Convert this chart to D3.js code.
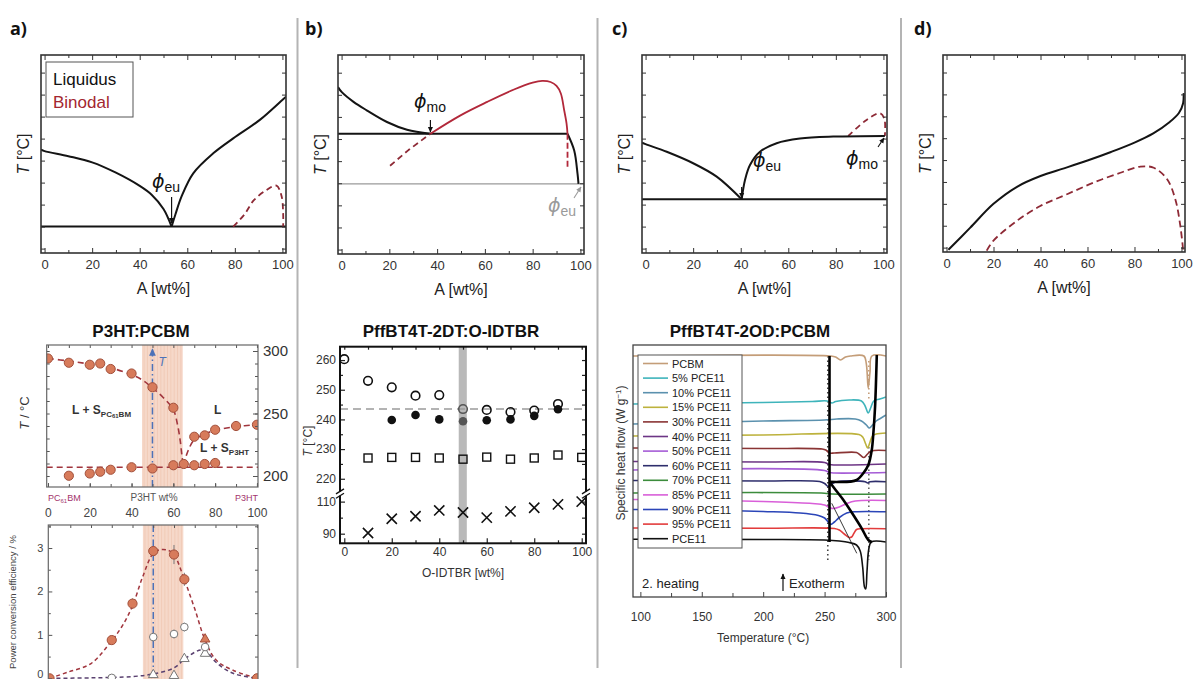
<!DOCTYPE html>
<html>
<head>
<meta charset="utf-8">
<script src="https://cdn.jsdelivr.net/npm/d3@7"></script>
<style>
  body { margin: 0; background: #fff; }
  svg { display: block; }
  text { font-family: "Liberation Sans", Arial, sans-serif; }
</style>
</head>
<body>
<svg id="fig" width="1194" height="679"></svg>
<script>
// ===================== data =====================
// composition axis (wt%) and arbitrary temperature axis of the schematic diagrams
const compMajorTicks = [0, 20, 40, 60, 80, 100];
const compMinorTicks = [10, 30, 50, 70, 90];
const compDomain = [-1.5, 101.5];
const tempArbDomain = [-0.2, 8.8];
const tempArbTicks = [0, 1, 2, 3, 4, 5, 6, 7, 8];

// a) simple eutectic with a hidden binodal
const aLiquidusLeft  = [[-1.5, 4.5], [0, 4.43], [10, 4.2], [20, 3.92], [30, 3.45], [40, 2.85], [45, 2.45], [50, 1.8], [53.4, 1.0]];
const aLiquidusRight = [[53.4, 1.0], [55, 1.55], [57.6, 2.37], [62.5, 3.42], [70.9, 4.33], [79.3, 5.01], [90.5, 5.85], [100.3, 6.79], [101.5, 6.9]];
const aEutectic      = [[-1.5, 1.0], [101.5, 1.0]];
const aBinodal       = [[79.3, 1.0], [84, 1.55], [88, 2.2], [93.3, 2.66], [97.5, 2.86], [99.6, 2.4], [100.3, 1.6], [100.3, 1.0]];

// b) monotectic + eutectic
const bLiquidusLeft  = [[-1.5, 7.35], [0, 7.13], [5, 6.68], [10.5, 6.3], [19, 5.77], [27.4, 5.42], [37.2, 5.24]];
const bMonotectic    = [[-1.5, 5.24], [94.6, 5.24]];
const bBinodalStable = [[37.2, 5.24], [49.8, 6.07], [61, 6.68], [72.2, 7.24], [80, 7.55], [84, 7.63], [87.5, 7.58], [90, 7.4], [91.8, 7.06], [93.2, 6.3], [94.2, 5.7], [94.6, 5.24]];
const bBinodalHidden = [[20.3, 3.79], [28, 4.5], [37.2, 5.24]];
const bBinodalDrop   = [[94.6, 5.24], [94.6, 3.75]];
const bLiquidusRight = [[94.6, 5.24], [97.4, 4.48], [98.8, 3.42], [99.2, 2.97]];
const bEutectic      = [[-1.5, 2.97], [101.5, 2.97]];

// c) eutectic with a monotectic close to pure A
const cLiquidusLeft  = [[-1.5, 4.82], [0, 4.75], [8.9, 4.4], [20, 3.88], [29.9, 3.27], [40.4, 2.24]];
const cEutectic      = [[-1.5, 2.24], [101.5, 2.24]];
const cLiquidusRight = [[40.4, 2.24], [41.8, 3.12], [43.9, 3.8], [48.1, 4.4], [55.1, 4.79], [64.9, 5.0], [78.9, 5.09], [100.6, 5.12]];
const cBinodal       = [[85.2, 5.12], [92.9, 5.85], [98.5, 6.15], [100.4, 5.9], [100.6, 5.12]];

// d) liquidus above a fully metastable binodal
const dLiquidus = [[0.8, -0.1], [10, 0.9], [20, 2.0], [30, 2.78], [40, 3.27], [50, 3.62], [60, 3.98], [70, 4.37], [80, 4.8], [88, 5.22], [95, 5.74], [98.9, 6.15], [100.7, 6.6], [100.9, 7.06]];
const dBinodal  = [[17.1, -0.14], [19.9, 0.31], [29.9, 1.22], [39.9, 1.9], [51.3, 2.44], [62.6, 2.97], [74, 3.42], [82.5, 3.7], [88.2, 3.65], [93.9, 3.12], [97.4, 2.2], [99.5, 1.0], [100.7, -0.1]];

// P3HT:PCBM phase diagram (T in °C vs. P3HT wt%)
const p3htTempTicks = [200, 250, 300];
const p3htLiquidusPCBM = [[0, 294], [10, 290.6], [20, 289], [25, 290], [30, 285.6], [40, 282], [50, 271], [60, 254.6]];
const p3htLiquidusP3HT = [[70, 231.4], [75, 232.5], [80, 237], [90, 240], [100, 241]];
const p3htSolidus      = [[10, 200.2], [20, 202], [25, 203.4], [30, 205], [40, 207], [50, 206], [60, 208.6], [65, 209.6], [70, 208.6], [75, 209.6], [80, 210.4]];
const p3htEutecticT    = 207;
const p3htFitPCBM      = [[0, 294], [10, 292], [20, 289.5], [30, 286.5], [40, 281], [45, 277], [50, 270.5], [55, 263], [60, 253], [62, 241], [63.3, 228], [64.2, 215], [64.8, 208.5]];
const p3htFitP3HT      = [[64.8, 208.5], [67, 220], [70, 229], [75, 233.5], [80, 236.5], [90, 239.5], [100, 241]];
const optimumBand      = [45, 64.5];
const optimumComp      = 50;

// P3HT:PCBM solar-cell efficiency (%)
const pceTicks = [0, 1, 2, 3];
const pceFilled     = [[0, 0], [30, 0.88], [40, 1.72], [50, 2.93], [60, 2.85], [65, 2.28], [100, 0]];
const pceFilledErr  = [[40, 0.12], [60, 0.22], [65, 0.15]];
const pceTriFilled  = [[75, 0.9]];
const pceOpen       = [[30, 0.01], [50, 0.95], [60, 1.02], [65, 1.18], [75, 0.72]];
const pceOpenErr    = [[50, 0.1], [60, 0.1], [65, 0.1], [75, 0.08]];
const pceTriOpen    = [[50, 0.08], [60, 0.06], [65, 0.45], [75, 0.57]];
const pceFitFilled  = [[0, 0], [8.7, 0.14], [20, 0.34], [30, 0.87], [35, 1.2], [40, 1.67], [45, 2.35], [50, 2.88], [53.3, 2.96], [57, 2.95], [60, 2.85], [65, 2.27], [70, 1.6], [75, 0.88], [80.3, 0.42], [88.2, 0.19], [100, 0]];
const pceFitOpen    = [[0, 0], [20, 0.01], [40, 0.04], [50, 0.1], [60, 0.24], [65, 0.44], [70, 0.6], [73, 0.65], [76, 0.6], [80, 0.38], [85, 0.2], [90, 0.09], [100, 0]];

// PffBT4T-2DT:O-IDTBR transition temperatures (°C)
const idtTempTicksUpper = [220, 230, 240, 250, 260];
const idtTempTicksLower = [90, 110];
const idtMelt     = [[0, 260.3], [10, 253], [20, 250.8], [30, 248], [40, 248.2], [50, 243.5], [60, 243.2], [70, 242.5], [80, 243], [90, 245.2]];
const idtMeltOnset = [[20, 239.8], [30, 241.5], [40, 240], [50, 239.4], [60, 239.7], [70, 240], [80, 241.2], [90, 243.4]];
const idtCryst    = [[10, 227], [20, 227.2], [30, 227.2], [40, 227], [50, 226.6], [60, 227.3], [70, 226.6], [80, 227], [90, 228], [100, 227.2]];
const idtGlass    = [[10, 90.4], [20, 99.3], [30, 100.9], [40, 104.5], [50, 103.2], [60, 100], [70, 103.9], [80, 106.2], [90, 108.3], [100, 110]];
const idtEutecticT = 243.5;
const idtBand      = [48.2, 51.6];

// PffBT4T-2OD:PCBM DSC second heating (temperature °C, heat flow in arbitrary offset units)
const dscTempTicks = [100, 150, 200, 250, 300];
const dscLabels = ["PCBM", "5% PCE11", "10% PCE11", "15% PCE11", "30% PCE11", "40% PCE11", "50% PCE11", "60% PCE11", "70% PCE11", "85% PCE11", "90% PCE11", "95% PCE11", "PCE11"];
const dscPCBM  = [[94, 241], [255, 241], [259, 240], [263, 237], [267, 240], [271, 241], [282, 241], [284, 233], [285.5, 209], [287, 225], [288.5, 241], [300, 241]];
const dsc5     = [[94, 193], [150, 193.8], [200, 194.5], [240, 195.5], [252, 196], [256, 194], [259, 195.5], [270, 197], [280, 196], [283, 191], [285.5, 184], [287.5, 189], [290, 196], [295, 198], [300, 200]];
const dsc10    = [[94, 173], [150, 174.5], [200, 176], [250, 177], [260, 178], [275, 178], [280, 176], [284, 172], [286.5, 169], [289, 172], [292, 176], [296, 179], [300, 182]];
const dsc15    = [[94, 161], [200, 162], [278, 162.5], [281, 160], [283.5, 153], [285, 149], [287, 155], [289, 161], [292, 163], [300, 164]];
const dsc30    = [[94, 149], [200, 148.5], [248, 148], [251, 147], [254, 144], [258, 144], [276, 144.5], [279, 142], [282, 139.5], [285, 143], [288, 146], [300, 146.5]];
const dsc40    = [[94, 135.5], [200, 135], [250, 134.5], [254, 132.5], [258, 132], [300, 133]];
const dsc50    = [[94, 127], [250, 126.5], [254, 124.5], [258, 124], [300, 124.5]];
const dsc60    = [[94, 116.5], [200, 116], [246, 115.5], [250, 113.5], [253, 110.5], [256, 113], [260, 115.3], [283, 115.3], [285, 114], [287, 115.3], [300, 115.3]];
const dsc70    = [[94, 104], [250, 103.8], [256, 103], [300, 103]];
const dsc85    = [[94, 97.5], [150, 97], [200, 95.5], [240, 93.5], [250, 92], [254, 89.5], [257, 88.5], [262, 90], [268, 93.5], [275, 96], [300, 96.5]];
const dsc90    = [[94, 87.5], [150, 87], [200, 85.5], [230, 84], [245, 81.5], [250, 79], [253, 75], [255, 72.5], [258, 75], [262, 79.5], [268, 84], [275, 85.3], [300, 85.3]];
const dsc95    = [[94, 69], [200, 68.7], [258, 68.5], [262, 67], [266, 63], [270, 59.5], [272, 60], [274, 64], [276, 67.5], [280, 68.3], [300, 68.3]];
const dscPCE11 = [[94, 57.7], [200, 57.5], [250, 57], [262, 56], [270, 54.5], [276, 52], [279, 46], [281, 30], [282.5, 10], [283.5, 8], [284.5, 25], [286, 48], [288, 55], [300, 55]];
// phase boundaries drawn through the DSC traces
const dscSolidusT     = 254;
const dscSolidusSpan  = [55, 241];
const dscLiquidusUp   = [[254, 115.3], [270.7, 115.3], [276.2, 117], [281.5, 123.7], [285.6, 132], [288.4, 147], [289.7, 163.7], [291.1, 190.3], [292.5, 242]];
const dscLiquidusDown = [[254, 115.3], [259, 107], [265.3, 97], [273.4, 82], [280.2, 68.7], [285.6, 57], [288.4, 55]];
const dscGuide        = [[255.8, 93.7], [276.2, 43.7]];
const dscOnsetT       = [252.6, 286];

// ===================== drawing =====================
const svg = d3.select("#fig");
const defs = svg.append("defs");

function arrowMarker(id, color) {
  defs.append("marker").attr("id", id)
    .attr("viewBox", "0 0 10 10").attr("refX", 9).attr("refY", 5)
    .attr("markerWidth", 5).attr("markerHeight", 5)
    .attr("orient", "auto")
    .append("path").attr("d", "M0,0.5 L10,5 L0,9.5 Z").attr("fill", color);
}
arrowMarker("arrK", "#111");
arrowMarker("arrG", "#9a9a9a");
arrowMarker("arrB", "#4d72b8");

let clipCount = 0;
function clipFor(g, x0, y0, w, h) {
  const id = "clip" + (clipCount++);
  defs.append("clipPath").attr("id", id).append("rect")
    .attr("x", x0).attr("y", y0).attr("width", w).attr("height", h);
  return g.append("g").attr("clip-path", `url(#${id})`);
}

// axis with inward-pointing ticks
function inwardAxis(g, axisFn, scale, values, size, transform, opts = {}) {
  const ax = axisFn(scale).tickValues(values).tickSize(-size).tickSizeOuter(0)
    .tickPadding(opts.pad ?? 6);
  if (!opts.labels) ax.tickFormat("");
  else ax.tickFormat(opts.format || d3.format("d"));
  const a = g.append("g").attr("transform", transform).call(ax);
  a.select(".domain").remove();
  a.selectAll("line").attr("stroke", opts.tickColor || "#333").attr("stroke-width", opts.tickWidth || 1);
  a.selectAll("text").attr("fill", opts.textColor || "#333")
    .style("font-size", (opts.fontSize || 13) + "px")
    .style("font-family", "'Liberation Sans', Arial, sans-serif");
  return a;
}

function phi(g, x, y, sub, color) {
  const t = g.append("text").attr("x", x).attr("y", y).attr("fill", color);
  t.append("tspan").text("ϕ").style("font-family", "'DejaVu Sans', sans-serif")
    .style("font-style", "italic").style("font-size", "19px");
  t.append("tspan").text(sub).attr("dy", 4).style("font-size", "14px");
}

function arrow(g, x1, y1, x2, y2, marker, color, w) {
  g.append("line").attr("x1", x1).attr("y1", y1).attr("x2", x2).attr("y2", y2)
    .attr("stroke", color).attr("stroke-width", w || 1.2).attr("marker-end", `url(#${marker})`);
}

// ---------- panel letters and separators ----------
[["a)", 10], ["b)", 305], ["c)", 612], ["d)", 914]].forEach(([s, x]) => {
  svg.append("text").attr("x", x).attr("y", 35).text(s)
    .style("font-family", "'Open Sans', 'Liberation Sans', sans-serif")
    .style("font-weight", "bold").style("font-size", "18px").attr("fill", "#111");
});
[297.5, 597.5, 901].forEach(x => {
  svg.append("line").attr("x1", x).attr("x2", x).attr("y1", 18).attr("y2", 668)
    .attr("stroke", "#b4b4b4").attr("stroke-width", 2);
});

// ---------- schematic phase diagrams (top row) ----------
const BLACK = "#141414", BINODAL = "#8e2a36";
function phasePanel(box) {
  const g = svg.append("g");
  const x = d3.scaleLinear().domain(compDomain).range([box.left, box.right]);
  const y = d3.scaleLinear().domain(tempArbDomain).range([box.bottom, box.top]);
  const line = d3.line().x(d => x(d[0])).y(d => y(d[1])).curve(d3.curveCatmullRom.alpha(0.5));
  const plot = clipFor(g, box.left, box.top, box.right - box.left, box.bottom - box.top);

  inwardAxis(g, d3.axisBottom, x, compMajorTicks, 5, `translate(0,${box.bottom})`, { labels: true, pad: 7, fontSize: 13 });
  inwardAxis(g, d3.axisBottom, x, compMinorTicks, 3, `translate(0,${box.bottom})`);
  inwardAxis(g, d3.axisTop, x, compMajorTicks, 5, `translate(0,${box.top})`);
  inwardAxis(g, d3.axisTop, x, compMinorTicks, 3, `translate(0,${box.top})`);
  inwardAxis(g, d3.axisLeft, y, tempArbTicks, 4, `translate(${box.left},0)`);
  inwardAxis(g, d3.axisRight, y, tempArbTicks, 4, `translate(${box.right},0)`);
  g.append("rect").attr("x", box.left).attr("y", box.top)
    .attr("width", box.right - box.left).attr("height", box.bottom - box.top)
    .attr("fill", "none").attr("stroke", "#333").attr("stroke-width", 1.6);

  g.append("text").attr("x", x(50)).attr("y", box.bottom + 41).attr("text-anchor", "middle")
    .style("font-size", "16px").attr("fill", "#222").text("A [wt%]");
  const yl = g.append("text").attr("transform", `translate(${box.left - 12},${(box.top + box.bottom) / 2}) rotate(-90)`)
    .attr("text-anchor", "middle").style("font-size", "16px").attr("fill", "#222");
  yl.append("tspan").text("T").style("font-style", "italic");
  yl.append("tspan").text(" [°C]");

  const draw = (data, color, width, dash, straight) => plot.append("path").datum(data)
    .attr("d", straight ? d3.line().x(d => x(d[0])).y(d => y(d[1]))(data) : line(data))
    .attr("fill", "none").attr("stroke", color).attr("stroke-width", width)
    .attr("stroke-dasharray", dash || null).attr("stroke-linejoin", "round");
  return { g, x, y, draw };
}

// a)
{
  const p = phasePanel({ left: 41, right: 286, top: 55, bottom: 253 });
  p.draw(aEutectic, BLACK, 2, null, true);
  p.draw(aBinodal, BINODAL, 1.8, "6,4");
  p.draw(aLiquidusLeft, BLACK, 2);
  p.draw(aLiquidusRight, BLACK, 2);
  p.g.append("rect").attr("x", 46).attr("y", 62).attr("width", 87).attr("height", 55)
    .attr("fill", "#fff").attr("stroke", "#555").attr("stroke-width", 1);
  p.g.append("text").attr("x", 53).attr("y", 85).text("Liquidus").style("font-size", "17px").attr("fill", "#111");
  p.g.append("text").attr("x", 53).attr("y", 108).text("Binodal").style("font-size", "17px").attr("fill", "#a3262f");
  phi(p.g, 152, 188, "eu", "#111");
  arrow(p.g, p.x(53.4), 197, p.x(53.4), 223, "arrK", "#111", 1.2);
}
// b)
{
  const p = phasePanel({ left: 338, right: 584, top: 55, bottom: 254 });
  p.draw(bEutectic, "#9a9a9a", 1.3, null, true);
  p.draw(bMonotectic, BLACK, 2, null, true);
  p.draw(bLiquidusLeft, BLACK, 2);
  p.draw(bLiquidusRight, BLACK, 2);
  p.draw(bBinodalHidden, BINODAL, 1.8, "6,4", true);
  p.draw(bBinodalDrop, "#b2283a", 1.8, "6,3", true);
  p.draw(bBinodalStable, "#b2283a", 1.8);
  phi(p.g, 414, 108, "mo", "#111");
  arrow(p.g, p.x(37.2), 120, p.x(37.2), 132, "arrK", "#111", 1.2);
  phi(p.g, 548, 212, "eu", "#9a9a9a");
  arrow(p.g, 574, 198, 581, 187, "arrG", "#9a9a9a", 1.1);
}
// c)
{
  const p = phasePanel({ left: 642, right: 887, top: 55, bottom: 253 });
  p.draw(cEutectic, BLACK, 2, null, true);
  p.draw(cBinodal, BINODAL, 1.8, "6,4");
  p.draw(cLiquidusLeft, BLACK, 2);
  p.draw(cLiquidusRight, BLACK, 2);
  phi(p.g, 753, 167, "eu", "#111");
  arrow(p.g, p.x(40.4), 187, p.x(40.4), 198, "arrK", "#111", 1.2);
  phi(p.g, 846, 165, "mo", "#111");
  arrow(p.g, 878, 147, 884, 138, "arrK", "#111", 1.1);
}
// d)
{
  const p = phasePanel({ left: 943, right: 1185, top: 55, bottom: 252 });
  p.draw(dBinodal, BINODAL, 1.8, "7,4");
  p.draw(dLiquidus, BLACK, 2);
}

// ---------- titles of the experimental panels ----------
[["P3HT:PCBM", 141], ["PffBT4T-2DT:O-IDTBR", 451], ["PffBT4T-2OD:PCBM", 750]].forEach(([s, x]) => {
  svg.append("text").attr("x", x).attr("y", 337).attr("text-anchor", "middle").text(s)
    .style("font-weight", "bold").style("font-size", "17px").attr("fill", "#111");
});

// ---------- P3HT:PCBM phase diagram ----------
const MARK_FILL = "#d77b5b", MARK_EDGE = "#a24f3a", FIT = "#a1353d", BLUE = "#4d72b8";
{
  const g = svg.append("g");
  const box = { left: 46.7, right: 258, top: 345, bottom: 487 };
  const x = d3.scaleLinear().domain([-0.6, 100.5]).range([box.left, box.right]);
  const y = d3.scaleLinear().domain([191.2, 304.8]).range([box.bottom, box.top]);
  const line = d3.line().x(d => x(d[0])).y(d => y(d[1])).curve(d3.curveCatmullRom.alpha(0.5));
  const plot = clipFor(g, box.left, box.top, box.right - box.left, box.bottom - box.top);

  plot.append("rect").attr("x", x(optimumBand[0])).attr("y", box.top)
    .attr("width", x(optimumBand[1]) - x(optimumBand[0])).attr("height", box.bottom - box.top)
    .attr("fill", "#f6d8c9");
  plot.selectAll("line.band").data(d3.range(optimumBand[0] + 1, optimumBand[1], 1.6)).join("line")
    .attr("x1", d => x(d)).attr("x2", d => x(d)).attr("y1", box.top).attr("y2", box.bottom)
    .attr("stroke", "#efc2ad").attr("stroke-width", 0.6);

  inwardAxis(g, d3.axisRight, y, p3htTempTicks, 5, `translate(${box.right},0)`, { labels: true, pad: 5, fontSize: 15, tickColor: "#555" });
  inwardAxis(g, d3.axisRight, y, d3.range(200, 301, 10), 3, `translate(${box.right},0)`, { tickColor: "#555" });
  inwardAxis(g, d3.axisLeft, y, d3.range(200, 301, 10), 3, `translate(${box.left},0)`, { tickColor: "#555" });
  inwardAxis(g, d3.axisTop, x, d3.range(0, 101, 10), 3, `translate(0,${box.top})`, { tickColor: "#555" });
  inwardAxis(g, d3.axisBottom, x, d3.range(0, 101, 10), 3, `translate(0,${box.bottom})`, { tickColor: "#555" });
  inwardAxis(g, d3.axisBottom, x, compMajorTicks, 4, `translate(0,${box.bottom})`, { labels: true, pad: 21, fontSize: 12, tickColor: "#555", textColor: "#444" });
  g.append("rect").attr("x", box.left).attr("y", box.top)
    .attr("width", box.right - box.left).attr("height", box.bottom - box.top)
    .attr("fill", "none").attr("stroke", "#666").attr("stroke-width", 1.2);

  // optimum composition with heating arrow
  plot.append("line").attr("x1", x(optimumComp)).attr("x2", x(optimumComp))
    .attr("y1", box.bottom).attr("y2", box.top + 4)
    .attr("stroke", BLUE).attr("stroke-width", 1.5).attr("stroke-dasharray", "7,3,1.5,3")
    .attr("marker-end", "url(#arrB)");
  g.append("text").attr("x", x(optimumComp) + 6).attr("y", 366).text("T")
    .style("font-style", "italic").style("font-size", "12px").attr("fill", BLUE);

  plot.append("line").attr("x1", box.left).attr("x2", box.right)
    .attr("y1", y(p3htEutecticT)).attr("y2", y(p3htEutecticT))
    .attr("stroke", FIT).attr("stroke-width", 1.6).attr("stroke-dasharray", "6,4");
  [p3htFitPCBM, p3htFitP3HT].forEach(d => plot.append("path").attr("d", line(d))
    .attr("fill", "none").attr("stroke", FIT).attr("stroke-width", 1.6).attr("stroke-dasharray", "6,4"));

  plot.selectAll("circle").data([...p3htSolidus, ...p3htLiquidusPCBM, ...p3htLiquidusP3HT]).join("circle")
    .attr("cx", d => x(d[0])).attr("cy", d => y(d[1])).attr("r", 4.6)
    .attr("fill", MARK_FILL).attr("stroke", MARK_EDGE).attr("stroke-width", 1);

  const lab = (xp, yp, main, sub) => {
    const t = g.append("text").attr("x", xp).attr("y", yp).attr("fill", "#333")
      .style("font-size", "12px").style("font-weight", "bold");
    t.append("tspan").text(main);
    if (sub) sub.forEach(([s, dy, fs]) => t.append("tspan").text(s).attr("dy", dy).style("font-size", fs + "px"));
  };
  lab(72, 414, "L + S", [["PC", 3, 8], ["61", 1, 6], ["BM", -1, 8]]);
  lab(214, 414, "L");
  lab(200, 452, "L + S", [["P3HT", 3, 8]]);

  const yl = g.append("text").attr("transform", `translate(29,413) rotate(-90)`)
    .attr("text-anchor", "middle").style("font-size", "13px").attr("fill", "#333");
  yl.append("tspan").text("T").style("font-style", "italic");
  yl.append("tspan").text(" / °C");

  const rowY = 501;
  const t1 = g.append("text").attr("x", 48).attr("y", rowY).attr("fill", "#a3346c").style("font-size", "9px");
  t1.append("tspan").text("PC");
  t1.append("tspan").text("61").attr("dy", 2).style("font-size", "6px");
  t1.append("tspan").text("BM").attr("dy", -2);
  g.append("text").attr("x", 154).attr("y", rowY).attr("text-anchor", "middle")
    .attr("fill", "#555").style("font-size", "10px").text("P3HT wt%");
  g.append("text").attr("x", 258).attr("y", rowY).attr("text-anchor", "end")
    .attr("fill", "#a3346c").style("font-size", "9px").text("P3HT");
}

// ---------- P3HT:PCBM power conversion efficiency ----------
{
  const g = svg.append("g");
  const box = { left: 48.3, right: 258, top: 525, bottom: 690 };
  const x = d3.scaleLinear().domain([-0.6, 100.5]).range([box.left, box.right]);
  const y = d3.scaleLinear().domain([0, 3.53]).range([678.3, box.top]);
  const line = d3.line().x(d => x(d[0])).y(d => y(d[1])).curve(d3.curveCatmullRom.alpha(0.5));
  const plot = clipFor(g, box.left, box.top, box.right - box.left, box.bottom - box.top);

  plot.append("rect").attr("x", x(optimumBand[0])).attr("y", box.top)
    .attr("width", x(optimumBand[1]) - x(optimumBand[0])).attr("height", box.bottom - box.top)
    .attr("fill", "#f6d8c9");
  plot.selectAll("line.band").data(d3.range(optimumBand[0] + 1, optimumBand[1], 1.6)).join("line")
    .attr("x1", d => x(d)).attr("x2", d => x(d)).attr("y1", box.top).attr("y2", box.bottom)
    .attr("stroke", "#efc2ad").attr("stroke-width", 0.6);
  plot.append("line").attr("x1", x(optimumComp)).attr("x2", x(optimumComp))
    .attr("y1", box.top).attr("y2", box.bottom)
    .attr("stroke", BLUE).attr("stroke-width", 1.5).attr("stroke-dasharray", "7,3,1.5,3");

  const yAx = inwardAxis(g, d3.axisLeft, y, pceTicks, 4, `translate(${box.left},0)`, { labels: true, pad: 5, fontSize: 11, tickColor: "#555", textColor: "#444" });
  // keep the zero label inside the page edge
  yAx.selectAll(".tick").filter(d => d === 0).select("text").attr("y", -4);
  inwardAxis(g, d3.axisLeft, y, [0.5, 1.5, 2.5, 3.5], 2.5, `translate(${box.left},0)`, { tickColor: "#555" });
  inwardAxis(g, d3.axisRight, y, [0.5, 1, 1.5, 2, 2.5, 3, 3.5], 3, `translate(${box.right},0)`, { tickColor: "#555" });
  inwardAxis(g, d3.axisTop, x, d3.range(0, 101, 10), 3, `translate(0,${box.top})`, { tickColor: "#555" });
  g.append("rect").attr("x", box.left).attr("y", box.top)
    .attr("width", box.right - box.left).attr("height", box.bottom - box.top)
    .attr("fill", "none").attr("stroke", "#666").attr("stroke-width", 1.2);

  plot.append("path").attr("d", line(pceFitFilled)).attr("fill", "none")
    .attr("stroke", FIT).attr("stroke-width", 1.5).attr("stroke-dasharray", "4,3");
  plot.append("path").attr("d", line(pceFitOpen)).attr("fill", "none")
    .attr("stroke", "#5a4170").attr("stroke-width", 1.5).attr("stroke-dasharray", "4,3");

  const err = (data, base) => plot.selectAll(null).data(data).join("line")
    .attr("x1", d => x(d[0])).attr("x2", d => x(d[0]))
    .attr("y1", d => y(base.find(b => b[0] === d[0])[1] - d[1]))
    .attr("y2", d => y(base.find(b => b[0] === d[0])[1] + d[1]))
    .attr("stroke", "#777").attr("stroke-width", 1);
  err(pceFilledErr, pceFilled);
  err(pceOpenErr, pceOpen);

  const tri = d3.symbol().type(d3.symbolTriangle).size(40);
  plot.selectAll(null).data(pceTriOpen).join("path").attr("d", tri)
    .attr("transform", d => `translate(${x(d[0])},${y(d[1])})`)
    .attr("fill", "#fff").attr("stroke", "#777").attr("stroke-width", 1);
  plot.selectAll(null).data(pceOpen).join("circle")
    .attr("cx", d => x(d[0])).attr("cy", d => y(d[1])).attr("r", 3.8)
    .attr("fill", "#fff").attr("stroke", "#777").attr("stroke-width", 1);
  plot.selectAll(null).data(pceTriFilled).join("path").attr("d", tri)
    .attr("transform", d => `translate(${x(d[0])},${y(d[1])})`)
    .attr("fill", MARK_FILL).attr("stroke", MARK_EDGE).attr("stroke-width", 1);
  plot.selectAll(null).data(pceFilled).join("circle")
    .attr("cx", d => x(d[0])).attr("cy", d => y(d[1])).attr("r", 4.6)
    .attr("fill", MARK_FILL).attr("stroke", MARK_EDGE).attr("stroke-width", 1);

  g.append("text").attr("transform", `translate(16,602) rotate(-90)`)
    .attr("text-anchor", "middle").style("font-size", "9.5px").attr("fill", "#444")
    .text("Power conversion efficiency / %");
}

// ---------- PffBT4T-2DT:O-IDTBR transitions ----------
{
  const g = svg.append("g");
  const box = { left: 340, right: 586, top: 346.7, bottom: 543.3 };
  const breakY = 493.6;
  const x = d3.scaleLinear().domain([-1.8, 101.8]).range([box.left, box.right]);
  const yU = d3.scaleLinear().domain([215, 264.5]).range([breakY, box.top]);
  const yL = d3.scaleLinear().domain([84, 115]).range([box.bottom, breakY]);
  const plot = clipFor(g, box.left, box.top, box.right - box.left, box.bottom - box.top);

  plot.append("rect").attr("x", x(idtBand[0])).attr("y", box.top)
    .attr("width", x(idtBand[1]) - x(idtBand[0])).attr("height", box.bottom - box.top)
    .attr("fill", "#b9b9b9");
  plot.append("line").attr("x1", box.left).attr("x2", box.right)
    .attr("y1", yU(idtEutecticT)).attr("y2", yU(idtEutecticT))
    .attr("stroke", "#9a9a9a").attr("stroke-width", 1.5).attr("stroke-dasharray", "8,5");

  const tOpt = { tickColor: "#222", tickWidth: 1.2 };
  inwardAxis(g, d3.axisLeft, yU, idtTempTicksUpper, 5, `translate(${box.left},0)`, { ...tOpt, labels: true, pad: 4, fontSize: 12 });
  inwardAxis(g, d3.axisLeft, yU, [225, 235, 245, 255], 3, `translate(${box.left},0)`, tOpt);
  inwardAxis(g, d3.axisRight, yU, [220, 225, 230, 235, 240, 245, 250, 255, 260], 4, `translate(${box.right},0)`, tOpt);
  inwardAxis(g, d3.axisLeft, yL, idtTempTicksLower, 5, `translate(${box.left},0)`, { ...tOpt, labels: true, pad: 4, fontSize: 12 });
  inwardAxis(g, d3.axisLeft, yL, [100], 3, `translate(${box.left},0)`, tOpt);
  inwardAxis(g, d3.axisRight, yL, [90, 100, 110], 4, `translate(${box.right},0)`, tOpt);
  inwardAxis(g, d3.axisBottom, x, compMajorTicks, 5, `translate(0,${box.bottom})`, { ...tOpt, labels: true, pad: 4, fontSize: 12 });
  inwardAxis(g, d3.axisBottom, x, compMinorTicks, 3, `translate(0,${box.bottom})`, tOpt);
  inwardAxis(g, d3.axisTop, x, d3.range(0, 101, 10), 3, `translate(0,${box.top})`, tOpt);
  g.append("rect").attr("x", box.left).attr("y", box.top)
    .attr("width", box.right - box.left).attr("height", box.bottom - box.top)
    .attr("fill", "none").attr("stroke", "#111").attr("stroke-width", 2);
  // axis breaks
  [box.left, box.right].forEach(bx => {
    g.append("rect").attr("x", bx - 4).attr("y", breakY - 2).attr("width", 8).attr("height", 4).attr("fill", "#fff");
    [-2.2, 2.2].forEach(o => g.append("line")
      .attr("x1", bx - 4).attr("x2", bx + 4).attr("y1", breakY + o + 2.5).attr("y2", breakY + o - 2.5)
      .attr("stroke", "#111").attr("stroke-width", 1.3));
  });

  plot.selectAll(null).data(idtMelt).join("circle")
    .attr("cx", d => x(d[0])).attr("cy", d => yU(d[1])).attr("r", 4.3)
    .attr("fill", "none").attr("stroke", d => d[0] === 50 ? "#555" : "#111").attr("stroke-width", 1.6);
  plot.selectAll(null).data(idtMeltOnset).join("circle")
    .attr("cx", d => x(d[0])).attr("cy", d => yU(d[1])).attr("r", 4.3)
    .attr("fill", d => d[0] === 50 ? "#555" : "#111");
  plot.selectAll(null).data(idtCryst).join("rect")
    .attr("x", d => x(d[0]) - 4).attr("y", d => yU(d[1]) - 4).attr("width", 8).attr("height", 8)
    .attr("fill", "none").attr("stroke", "#111").attr("stroke-width", 1.4);
  const cross = d3.symbol().type(d3.symbolX).size(70);
  plot.selectAll(null).data(idtGlass).join("path").attr("d", cross)
    .attr("transform", d => `translate(${x(d[0])},${yL(d[1])})`)
    .attr("fill", "none").attr("stroke", "#111").attr("stroke-width", 1.6);

  g.append("text").attr("x", x(50)).attr("y", 577).attr("text-anchor", "middle")
    .style("font-size", "12px").attr("fill", "#333").text("O-IDTBR [wt%]");
  const yl = g.append("text").attr("transform", `translate(312,441) rotate(-90)`)
    .attr("text-anchor", "middle").style("font-size", "12px").attr("fill", "#333");
  yl.append("tspan").text("T").style("font-style", "italic");
  yl.append("tspan").text(" [°C]");
}

// ---------- PffBT4T-2OD:PCBM DSC thermograms ----------
{
  const g = svg.append("g");
  const box = { left: 633, right: 886, top: 345, bottom: 597 };
  const x = d3.scaleLinear().domain([94, 300]).range([box.left, box.right]);
  const y = d3.scaleLinear().domain([0, 252]).range([box.bottom, box.top]);
  const smooth = d3.line().x(d => x(d[0])).y(d => y(d[1])).curve(d3.curveCatmullRom.alpha(0.5));
  const straight = d3.line().x(d => x(d[0])).y(d => y(d[1]));
  const plot = clipFor(g, box.left, box.top, box.right - box.left, box.bottom - box.top);

  const traces = [dscPCBM, dsc5, dsc10, dsc15, dsc30, dsc40, dsc50, dsc60, dsc70, dsc85, dsc90, dsc95, dscPCE11];
  const traceColors = ["#c49d78", "#3eb4bb", "#5b91ae", "#bdb23d", "#8a3434", "#6d3585", "#a55cd6", "#2e2e6c", "#3c8c3c", "#d95fd9", "#2b45b8", "#e23c3c", "#111111"];

  // onset markers
  plot.append("line").attr("x1", x(dscOnsetT[0])).attr("x2", x(dscOnsetT[0]))
    .attr("y1", y(241)).attr("y2", y(37))
    .attr("stroke", "#444").attr("stroke-width", 1.6).attr("stroke-dasharray", "1.5,3");
  plot.append("line").attr("x1", x(dscOnsetT[1])).attr("x2", x(dscOnsetT[1]))
    .attr("y1", y(150)).attr("y2", y(37))
    .attr("stroke", "#666").attr("stroke-width", 1.6).attr("stroke-dasharray", "1.5,3");
  plot.append("line").attr("x1", x(dscOnsetT[1])).attr("x2", x(dscOnsetT[1]))
    .attr("y1", y(236)).attr("y2", y(196))
    .attr("stroke", "#c49d78").attr("stroke-width", 1.6).attr("stroke-dasharray", "1.5,3");

  traces.forEach((d, i) => plot.append("path").attr("d", smooth(d))
    .attr("fill", "none").attr("stroke", traceColors[i]).attr("stroke-width", 1.6));

  plot.append("path").attr("d", straight(dscGuide)).attr("fill", "none")
    .attr("stroke", "#222").attr("stroke-width", 0.9);
  plot.append("line").attr("x1", x(dscSolidusT)).attr("x2", x(dscSolidusT))
    .attr("y1", y(dscSolidusSpan[0])).attr("y2", y(dscSolidusSpan[1]))
    .attr("stroke", "#000").attr("stroke-width", 2.6);
  [dscLiquidusUp, dscLiquidusDown].forEach(d => plot.append("path").attr("d", smooth(d))
    .attr("fill", "none").attr("stroke", "#000").attr("stroke-width", 2.6));

  inwardAxis(g, d3.axisBottom, x, dscTempTicks, 5, `translate(0,${box.bottom})`, { labels: true, pad: 15, fontSize: 12, tickColor: "#444", textColor: "#333" });
  inwardAxis(g, d3.axisBottom, x, [125, 175, 225, 275], 4, `translate(0,${box.bottom})`, { tickColor: "#444" });
  g.append("rect").attr("x", box.left).attr("y", box.top)
    .attr("width", box.right - box.left).attr("height", box.bottom - box.top)
    .attr("fill", "none").attr("stroke", "#444").attr("stroke-width", 1.3);

  // legend
  const lg = g.append("g");
  lg.append("rect").attr("x", 638).attr("y", 355).attr("width", 104).attr("height", 193)
    .attr("fill", "#fff").attr("stroke", "#555").attr("stroke-width", 1);
  dscLabels.forEach((s, i) => {
    const yy = 363.5 + i * 14.6;
    lg.append("line").attr("x1", 643).attr("x2", 668).attr("y1", yy).attr("y2", yy)
      .attr("stroke", traceColors[i]).attr("stroke-width", 1.6);
    lg.append("text").attr("x", 672).attr("y", yy + 4).text(s)
      .style("font-size", "11px").attr("fill", "#222");
  });

  g.append("text").attr("x", 642).attr("y", 588).text("2. heating")
    .style("font-size", "13px").attr("fill", "#222");
  arrow(g, 783, 591, 783, 574, "arrK", "#111", 1.2);
  g.append("text").attr("x", 789).attr("y", 588).text("Exotherm")
    .style("font-size", "13px").attr("fill", "#222");

  g.append("text").attr("x", x(200)).attr("y", 642).attr("text-anchor", "middle")
    .style("font-size", "12px").attr("fill", "#333").text("Temperature (°C)");
  const yl = g.append("text").attr("transform", `translate(625,453) rotate(-90)`)
    .attr("text-anchor", "middle").style("font-size", "12px").attr("fill", "#333");
  yl.append("tspan").text("Specific heat flow (W g");
  yl.append("tspan").text("−1").attr("dy", -4).style("font-size", "8px");
  yl.append("tspan").text(")").attr("dy", 4);
}
</script>
</body>
</html>
